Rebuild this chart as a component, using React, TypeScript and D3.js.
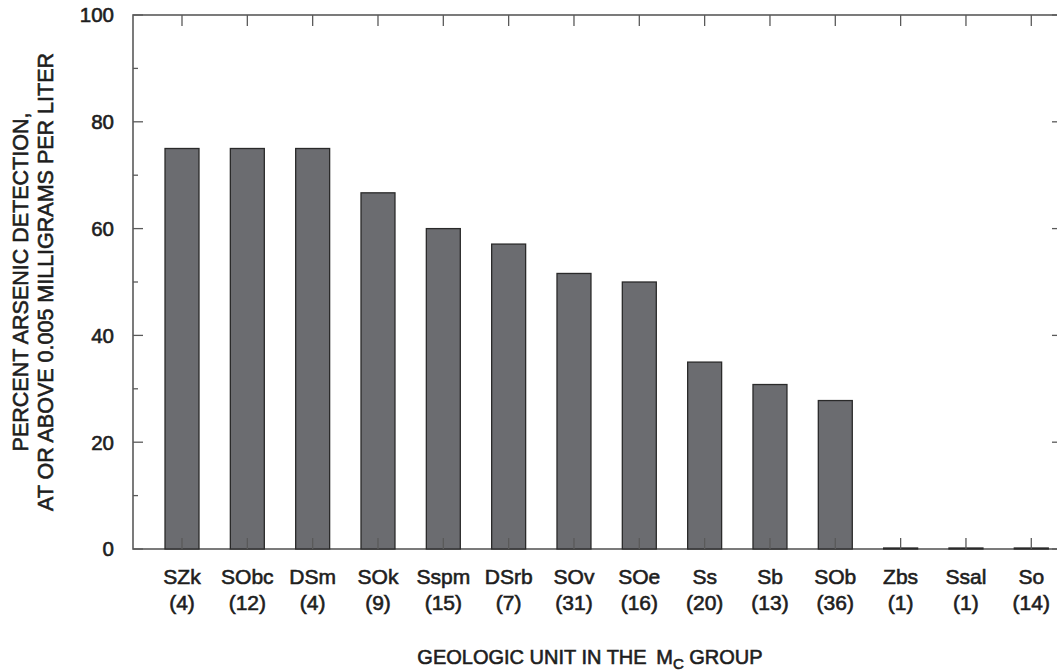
import React from "react";
import * as d3 from "d3";

const units = ["SZk", "SObc", "DSm", "SOk", "Sspm", "DSrb", "SOv", "SOe", "Ss", "Sb", "SOb", "Zbs", "Ssal", "So"];
const counts = [4, 12, 4, 9, 15, 7, 31, 16, 20, 13, 36, 1, 1, 14];
const percents = [75, 75, 75, 66.7, 60, 57.1, 51.6, 50, 35, 30.8, 27.8, 0, 0, 0];
const yTicks = [0, 20, 40, 60, 80, 100];
const yMinor = [10, 30, 50, 70, 90];

const W = 1057;
const H = 671;
const left = 133;
const right = 1062;
const top = 15;
const bottom = 549;
const font = "'Liberation Sans', Arial, Helvetica, sans-serif";

export default function App() {
  const step = 65.33;
  const x = d3
    .scaleBand<string>()
    .domain(units)
    .range([182 - step / 2, 182 - step / 2 + step * units.length])
    .paddingInner(0.48)
    .paddingOuter(0.24);
  const y = d3.scaleLinear().domain([0, 100]).range([bottom, top]);
  const cx = (u: string) => (x(u) as number) + x.bandwidth() / 2;
  const axisColor = "#5a5a5a";
  const txt = "#1e1e1e";
  const sw = 0.6;

  return (
    <svg width={W} height={H} style={{ position: "absolute", left: 0, top: 0 }}>
      <rect x={0} y={0} width={W} height={H} fill="#fff" />
      {/* frame */}
      <rect x={left} y={top} width={right - left} height={bottom - top} fill="none" stroke={axisColor} strokeWidth={1.6} />
      {/* bars */}
      {units.map((u, i) => (
        <rect
          key={u}
          x={x(u)}
          y={y(percents[i]) - (percents[i] === 0 ? 1 : 0)}
          width={x.bandwidth()}
          height={y(0) - y(percents[i]) + (percents[i] === 0 ? 1 : 0)}
          fill="#6b6c70"
          stroke="#2a2a2a"
          strokeWidth={1.3}
        />
      ))}
      {/* x ticks top & bottom */}
      {units.map((u) => (
        <g key={"t" + u}>
          <line x1={cx(u)} x2={cx(u)} y1={top} y2={top + 11} stroke={axisColor} strokeWidth={1.3} />
          <line x1={cx(u)} x2={cx(u)} y1={bottom} y2={bottom - 11} stroke={axisColor} strokeWidth={1.3} />
        </g>
      ))}
      {/* y ticks */}
      {yTicks.map((t) => (
        <g key={"y" + t}>
          <line x1={left} x2={left + 10} y1={y(t)} y2={y(t)} stroke={axisColor} strokeWidth={1.3} />
          <line x1={right} x2={right - 10} y1={y(t)} y2={y(t)} stroke={axisColor} strokeWidth={1.3} />
          <text x={114} y={y(t)} dy="0.36em" textAnchor="end" fontFamily={font} fontSize={20.5} fill={txt} stroke={txt} strokeWidth={sw}>
            {t}
          </text>
        </g>
      ))}
      {yMinor.map((t) => (
        <g key={"m" + t}>
          <line x1={left} x2={left + 5} y1={y(t)} y2={y(t)} stroke={axisColor} strokeWidth={1.3} />
          <line x1={right} x2={right - 5} y1={y(t)} y2={y(t)} stroke={axisColor} strokeWidth={1.3} />
        </g>
      ))}
      {/* x labels */}
      {units.map((u, i) => (
        <g key={"l" + u} fontFamily={font} fontSize={21} fill={txt} stroke={txt} strokeWidth={sw} textAnchor="middle">
          <text x={cx(u)} y={584}>{u}</text>
          <text x={cx(u)} y={610}>({counts[i]})</text>
        </g>
      ))}
      {/* y title */}
      <g fontFamily={font} fontSize={21.5} fill={txt} stroke={txt} strokeWidth={sw} textAnchor="middle">
        <text transform={`translate(28,${(top + bottom) / 2}) rotate(-90)`}>PERCENT ARSENIC DETECTION,</text>
        <text transform={`translate(53,${(top + bottom) / 2}) rotate(-90)`}>AT OR ABOVE 0.005 MILLIGRAMS PER LITER</text>
      </g>
      {/* x title */}
      <text x={590} y={664} textAnchor="middle" fontFamily={font} fontSize={20} fill={txt} stroke={txt} strokeWidth={sw}>
        {"GEOLOGIC UNIT IN THE "}
        <tspan dx={4}>M</tspan>
        <tspan fontSize={15} dy={5}>C</tspan>
        <tspan dy={-5}>{" GROUP"}</tspan>
      </text>
    </svg>
  );
}
